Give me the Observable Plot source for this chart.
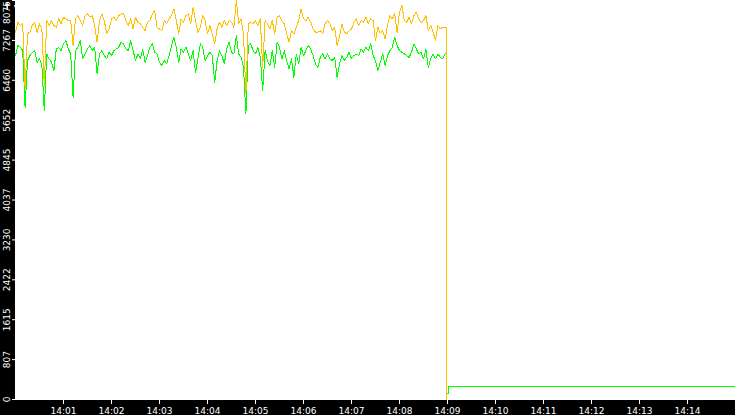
<!DOCTYPE html>
<html>
<head>
<meta charset="utf-8">
<script src="https://cdn.jsdelivr.net/npm/d3@7"></script>
<script src="https://cdn.jsdelivr.net/npm/@observablehq/plot@0.6"></script>
<style>
  html, body { margin: 0; padding: 0; background: #fff; overflow: hidden; }
  #chart svg { display: block; }
</style>
</head>
<body>
<div id="chart"></div>
<script>
// ---- data ----
const day = "2000-01-01";
const startClock = "14:00:00";
const endClock = "14:15:00";
const stepSeconds = 3; // sampling interval of the series below

const orangeValues = [
  7432,7635,7568,7602,6290,7405,7432,7568,7635,7432,7602,7500,6350,7669,7568,7669,7568,7534,7703,7602,
  7737,7703,7669,7669,7162,7703,7770,7669,7568,7770,7804,7737,7770,7568,7230,7669,7804,7669,7399,7500,
  7703,7737,7669,7770,7804,
  7804,7669,7568,7703,7500,7737,7635,7602,7534,7466,7635,7669,7804,7872,7534,7500,7466,7669,7602,7703,
  7770,7906,7669,7399,7703,7635,7770,7804,7602,7940,7669,7432,7534,7770,7669,7399,7568,7399,7196,7500,
  7635,7534,7669,7568,7669,
  7635,7534,8075,7602,7703,7399,6188,7602,7635,7602,7669,7568,7703,6716,7669,7602,7500,7669,7399,7737,
  7770,7669,7602,7399,7230,7466,7399,7534,7669,7906,7703,7669,7737,7635,7500,7432,7432,7466,7399,7602,
  7669,7602,7466,7534,7162,
  7331,7602,7432,7399,7466,7500,7635,7703,7568,7669,7635,7737,7602,7703,7669,7264,7534,7399,7466,7297,
  7568,7770,7703,7804,7432,7838,7974,7669,7635,7737,7602,7770,7838,7703,7635,7669,7770,7466,7568,7432,
  7264,7568,7500,7534,7534
];
const greenValues = [
  6959,7162,7128,7061,5904,6858,6959,7027,7061,6824,6892,6757,5843,6993,6892,6824,6655,7094,7128,7061,
  7196,7263,7094,6993,6107,7061,7128,7263,6892,6993,7094,7162,7061,7128,6594,6993,7061,6959,6892,7027,
  6959,7061,7094,7128,7230,
  7196,7094,7061,7263,7061,6858,6993,6892,7094,6824,6959,7128,7196,7027,6993,6824,6757,6858,6790,6959,
  7162,7331,7128,6824,7094,7027,7128,6993,6858,7061,6621,6892,7196,7128,6858,6959,7027,6959,6419,6858,
  7061,6959,6790,7094,7230,
  7027,6993,7365,6993,6925,6723,5782,7162,7196,7061,6993,7128,6925,6249,7061,6858,6757,7061,6723,7230,
  7128,6892,7061,6858,6689,6892,6520,6993,6790,7128,6959,7061,7162,7094,6959,6790,6723,6925,6993,6892,
  6993,6892,6858,6925,6520,
  6790,6959,6858,6925,7027,6892,6959,6993,6959,7094,7027,7128,7061,7196,6959,6858,6655,6824,6993,6757,
  6959,7061,7128,7331,7162,7061,7027,6993,6959,6925,7027,7196,7094,6993,7027,6892,7094,6723,6892,6993,
  6892,6993,6925,6892,6993
];
// drop at the end (seconds after 14:00:00, value)
const orangeTailSeconds = [538.75, 538.75];
const orangeTailValues  = [7534, 0];
const greenTailSeconds  = [538.75, 538.75, 541.6, 541.6, 900];
const greenTailValues   = [6993, 127, 127, 255, 255];

const yTicks = [0, 807, 1615, 2422, 3230, 4037, 4845, 5652, 6460, 7267, 8075];
const xTickLabels = ["14:01","14:02","14:03","14:04","14:05","14:06","14:07",
                     "14:08","14:09","14:10","14:11","14:12","14:13","14:14"];

// ---- build tables ----
const t0 = new Date(`${day}T${startClock}Z`);
const at = s => new Date(t0.getTime() + s * 1000);
function series(values, tailSec, tailVal) {
  const rows = values.map((v, i) => ({time: at(i * stepSeconds), value: v}));
  tailSec.forEach((s, i) => rows.push({time: at(s), value: tailVal[i]}));
  return rows;
}
const orange = series(orangeValues, orangeTailSeconds, orangeTailValues);
const green = series(greenValues, greenTailSeconds, greenTailValues);
const xTicks = xTickLabels.map(l => new Date(`${day}T${l}:00Z`));
const xDomain = [t0, new Date(`${day}T${endClock}Z`)];

const font = "DejaVu Sans, Verdana, sans-serif";
const chart = Plot.plot({
  width: 735,
  height: 415,
  marginLeft: 15,
  marginRight: 0,
  marginTop: 0,
  marginBottom: 16,
  style: {background: "black", color: "white", fontFamily: font, fontSize: "9px"},
  x: {type: "utc", domain: xDomain, axis: null},
  y: {domain: [0, 8075], axis: null},
  marks: [
    Plot.frame({fill: "white", stroke: "white"}),
    Plot.lineY(green, {x: "time", y: "value", stroke: "#00ff00", strokeWidth: 1, shapeRendering: "crispEdges"}),
    Plot.lineY(orange, {x: "time", y: "value", stroke: "#ffc000", strokeWidth: 1, shapeRendering: "crispEdges"}),
    Plot.axisY(yTicks.slice(0, -1), {
      anchor: "left", tickSize: 3, tickPadding: 3, tickRotate: -90,
      tickFormat: d => String(d), stroke: "white", fill: "white"
    }),
    Plot.axisY(yTicks.slice(-1), {
      anchor: "left", tickSize: 3, tickPadding: 3, tickRotate: -90,
      tickFormat: () => "", stroke: "white"
    }),
    Plot.axisY(yTicks.slice(-1), {
      anchor: "left", tickSize: 0, tickPadding: 6, tickRotate: -90, dy: 12,
      tickFormat: d => String(d), fill: "white"
    }),
    Plot.axisX(xTicks, {
      anchor: "bottom", tickSize: 5, tickPadding: 3,
      tickFormat: d3.utcFormat("%H:%M"), stroke: "white", fill: "white"
    })
  ]
});
document.getElementById("chart").append(chart);
</script>
</body>
</html>
